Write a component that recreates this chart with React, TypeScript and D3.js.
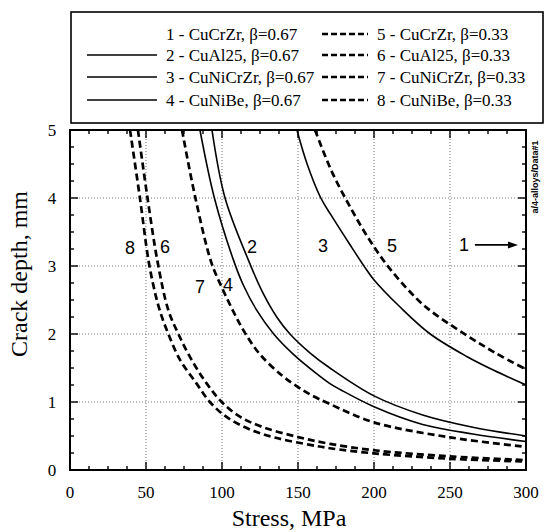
import React from 'react'
import * as d3 from 'd3'

// curve points: [stress MPa, crack depth mm]
const cuAl25_067 = [[93.4, 5], [102, 4], [117.3, 3.09], [127, 2.6], [136, 2.25], [144.7, 2.0], [158, 1.72], [171, 1.5], [200, 1.09], [232, 0.81], [265, 0.63], [300, 0.5]]
const cuNiCrZr_067 = [[149.3, 5], [156, 4.5], [165, 4.0], [172, 3.74], [184, 3.32], [194, 2.98], [199.5, 2.81], [217, 2.4], [237, 2.0], [261, 1.67], [278.5, 1.47], [300, 1.25]]
const cuNiBe_067 = [[85.5, 5], [95, 4], [107.5, 3.09], [114, 2.72], [122.8, 2.35], [134, 2.0], [147, 1.7], [162, 1.42], [171, 1.27], [178, 1.18], [200, 0.93], [232, 0.67], [265, 0.53], [300, 0.42]]
const cuCrZr_033 = [[161.2, 5], [172, 4.4], [184, 3.88], [196, 3.42], [208, 3.03], [222, 2.66], [235, 2.38], [261, 1.98], [280, 1.72], [300, 1.48]]
const cuAl25_033 = [[44.7, 5], [51, 4], [57.7, 3.05], [64.7, 2.35], [71.3, 2.0], [80, 1.62], [90, 1.27], [99.8, 1.0], [112, 0.78], [127, 0.63], [149, 0.49], [171, 0.385], [200, 0.29], [250, 0.2], [300, 0.145]]
const cuNiCrZr_033 = [[73.7, 5], [82.5, 4], [93, 3.05], [100, 2.68], [107.5, 2.33], [115, 2.02], [125, 1.7], [140, 1.38], [150, 1.22], [158, 1.11], [171, 0.97], [200, 0.7], [250, 0.48], [300, 0.34]]
const cuNiBe_033 = [[39.5, 5], [46, 4], [51.5, 3.1], [55, 2.7], [59, 2.35], [64.7, 2.0], [72.4, 1.62], [83.3, 1.27], [92, 1.0], [103, 0.78], [118, 0.6], [136, 0.47], [158, 0.37], [171, 0.32], [200, 0.245], [250, 0.165], [300, 0.125]]

const solidCurves = [cuAl25_067, cuNiCrZr_067, cuNiBe_067]
const dashedCurves = [cuCrZr_033, cuAl25_033, cuNiCrZr_033, cuNiBe_033]

const legendLeft = ['1 - CuCrZr, β=0.67', '2 - CuAl25, β=0.67', '3 - CuNiCrZr, β=0.67', '4 - CuNiBe, β=0.67']
const legendRight = ['5 - CuCrZr, β=0.33', '6 - CuAl25, β=0.33', '7 - CuNiCrZr, β=0.33', '8 - CuNiBe, β=0.33']

// in-plot curve labels: [label, stress, depth]
const curveLabels = [['8', 39.5, 3.27], ['6', 62.5, 3.29], ['7', 85.5, 2.7], ['4', 104, 2.73], ['2', 119.7, 3.28], ['3', 166.4, 3.3], ['5', 211.8, 3.3], ['1', 259.2, 3.31]]

const xTicks = [0, 50, 100, 150, 200, 250, 300]
const yTicks = [0, 1, 2, 3, 4, 5]

const W = 545
const H = 532
const L = 70, R = 526, T = 130, B = 470

export default function App() {
  const x = d3.scaleLinear().domain([0, 300]).range([L, R])
  const y = d3.scaleLinear().domain([0, 5]).range([B, T])
  const line = d3.line<number[]>().x(d => x(d[0])).y(d => y(d[1])).curve(d3.curveCatmullRom.alpha(0.5))

  const xMinor = d3.range(0, 300.01, 12.5)
  const yMinor = d3.range(0, 5.001, 0.25)
  const serif = '"Liberation Serif", "Times New Roman", serif'
  const sans = '"Liberation Sans", Arial, sans-serif'
  const rowY = [34, 55, 77, 100]

  return (
    <svg width={W} height={H} style={{ position: 'absolute', left: 0, top: 0, background: '#fff' }}>
      <defs>
        <clipPath id="plot"><rect x={L} y={T} width={R - L} height={B - T} /></clipPath>
      </defs>

      {/* legend box */}
      <rect x={71} y={12} width={472} height={111} fill="none" stroke="#000" strokeWidth={1.6} />
      {legendLeft.map((t, i) => (
        <g key={t}>
          {i > 0 && <line x1={87} x2={157} y1={rowY[i]} y2={rowY[i]} stroke="#000" strokeWidth={1.6} />}
          <text x={166} y={rowY[i]} dy="0.35em" fontFamily={serif} fontSize={17}>{t}</text>
        </g>
      ))}
      {legendRight.map((t, i) => (
        <g key={t}>
          <line x1={322} x2={368} y1={rowY[i]} y2={rowY[i]} stroke="#000" strokeWidth={2.6} strokeDasharray="6,3" />
          <text x={377} y={rowY[i]} dy="0.35em" fontFamily={serif} fontSize={17}>{t}</text>
        </g>
      ))}

      {/* grid */}
      {xTicks.slice(1, -1).map(v => (
        <line key={'gx' + v} x1={x(v)} x2={x(v)} y1={T} y2={B} stroke="#555" strokeWidth={0.8} strokeDasharray="1,2" />
      ))}
      {yTicks.slice(1, -1).map(v => (
        <line key={'gy' + v} x1={L} x2={R} y1={y(v)} y2={y(v)} stroke="#555" strokeWidth={0.8} strokeDasharray="1,2" />
      ))}

      {/* curves */}
      <g clipPath="url(#plot)" fill="none" stroke="#000">
        {solidCurves.map((c, i) => <path key={'s' + i} d={line(c) || ''} strokeWidth={1.6} />)}
        {dashedCurves.map((c, i) => <path key={'d' + i} d={line(c) || ''} strokeWidth={2.7} strokeDasharray="7,4" />)}
      </g>

      {/* ticks on all four sides */}
      <g stroke="#000" strokeWidth={1.4}>
        {xMinor.map(v => {
          const len = v % 50 === 0 ? 8 : 4
          return (
            <g key={'tx' + v}>
              <line x1={x(v)} x2={x(v)} y1={B} y2={B - len} />
              <line x1={x(v)} x2={x(v)} y1={T} y2={T + len} />
            </g>
          )
        })}
        {yMinor.map(v => {
          const len = Math.abs(v - Math.round(v)) < 1e-6 ? 8 : 4
          return (
            <g key={'ty' + v}>
              <line x1={L} x2={L + len} y1={y(v)} y2={y(v)} />
              <line x1={R} x2={R - len} y1={y(v)} y2={y(v)} />
            </g>
          )
        })}
      </g>
      <rect x={L} y={T} width={R - L} height={B - T} fill="none" stroke="#000" strokeWidth={2} />

      {/* tick labels */}
      {xTicks.map(v => (
        <text key={'lx' + v} x={x(v)} y={498} textAnchor="middle" fontFamily={serif} fontSize={17}>{v}</text>
      ))}
      {yTicks.map(v => (
        <text key={'ly' + v} x={52} y={y(v)} dy="0.35em" textAnchor="middle" fontFamily={serif} fontSize={17}>{v}</text>
      ))}

      {/* axis titles */}
      <text x={289} y={526} textAnchor="middle" fontFamily={serif} fontSize={24}>Stress, MPa</text>
      <text transform="translate(27,274) rotate(-90)" textAnchor="middle" fontFamily={serif} fontSize={24}>Crack depth, mm</text>

      {/* curve labels */}
      {curveLabels.map(([t, sx, sy]) => (
        <text key={'cl' + t} x={x(sx as number)} y={y(sy as number)} dy="0.35em" textAnchor="middle" fontFamily={sans} fontSize={18}>{t}</text>
      ))}
      <line x1={x(266.4)} x2={x(290)} y1={y(3.31)} y2={y(3.31)} stroke="#000" strokeWidth={1.6} />
      <path d={`M${x(294.7)},${y(3.31)} l-10,-3.5 l0,7 z`} fill="#000" />

      <text transform="translate(538,177) rotate(-90)" textAnchor="middle" fontFamily={sans} fontSize={9} fontWeight="bold">a/4-alloys/Data#1</text>
    </svg>
  )
}
